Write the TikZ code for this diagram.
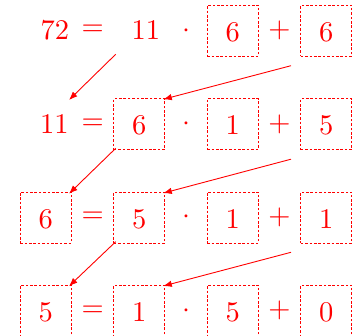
\documentclass[tikz,border=0pt]{standalone}
\usepackage{graphicx}
\usetikzlibrary{calc,arrows.meta}
\newcommand{\bignum}[1]{\scalebox{2.85}{$#1$}}
\begin{document}
\begin{tikzpicture}[x=1pt,y=-1pt,
  every node/.style={text=red,inner sep=0pt},
  boxnum/.style={draw=red,line width=0.9pt,dash pattern=on 2.6pt off 1.8pt,minimum size=51pt,text height=21.4pt,text depth=0pt},
  plainnum/.style={},
  conn/.style={draw=red,line width=0.9pt,-{Latex[length=8.5pt,width=6.5pt]}}]
\useasboundingbox (0,0) rectangle (360,336);
% row 1
\node[plainnum] (r1c1) at (55,30.7) {\bignum{72}};
\node (r1c2) at (92.8,30.7) {\bignum{=}};
\node[plainnum] (r1c3) at (146,30.7) {\bignum{11}};
\node (r1c4) at (186,30.7) {\bignum{\cdot}};
\node[boxnum] (r1c5) at (232.8,30.7) {\bignum{6}};
\node (r1c6) at (279.5,30.7) {\bignum{+}};
\node[boxnum] (r1c7) at (326.3,30.7) {\bignum{6}};
% row 2
\node[plainnum] (r2c1) at (54.5,124.2) {\bignum{11}};
\node (r2c2) at (92.8,124.2) {\bignum{=}};
\node[boxnum] (r2c3) at (139.3,124.2) {\bignum{6}};
\node (r2c4) at (186,124.2) {\bignum{\cdot}};
\node[boxnum] (r2c5) at (232.8,124.2) {\bignum{1}};
\node (r2c6) at (279.5,124.2) {\bignum{+}};
\node[boxnum] (r2c7) at (326.3,124.2) {\bignum{5}};
% row 3
\node[boxnum] (r3c1) at (45.8,217.5) {\bignum{6}};
\node (r3c2) at (92.8,217.5) {\bignum{=}};
\node[boxnum] (r3c3) at (139.3,217.5) {\bignum{5}};
\node (r3c4) at (186,217.5) {\bignum{\cdot}};
\node[boxnum] (r3c5) at (232.8,217.5) {\bignum{1}};
\node (r3c6) at (279.5,217.5) {\bignum{+}};
\node[boxnum] (r3c7) at (326.3,217.5) {\bignum{1}};
% row 4
\node[boxnum] (r4c1) at (45.8,310.8) {\bignum{5}};
\node (r4c2) at (92.8,310.8) {\bignum{=}};
\node[boxnum] (r4c3) at (139.3,310.8) {\bignum{1}};
\node (r4c4) at (186,310.8) {\bignum{\cdot}};
\node[boxnum] (r4c5) at (232.8,310.8) {\bignum{5}};
\node (r4c6) at (279.5,310.8) {\bignum{+}};
\node[boxnum] (r4c7) at (326.3,310.8) {\bignum{0}};
% arrow end points
\coordinate (a1s) at ($(r1c3.center)+(-30.3,23.6)$);
\coordinate (a1e) at ($(r2c1.center)+(14.5,-24.2)$);
\coordinate (b1s) at ($(r1c7.center)+(-35.3,35)$);
\coordinate (b1e) at ($(r2c3.center)+(24,-24.9)$);
\coordinate (a2s) at ($(r2c3.center)+(-23.6,24.1)$);
\coordinate (a2e) at ($(r3c1.center)+(23.2,-23.8)$);
\coordinate (b2s) at ($(r2c7.center)+(-35.3,35)$);
\coordinate (b2e) at ($(r3c3.center)+(24,-24.4)$);
\coordinate (a3s) at ($(r3c3.center)+(-23.6,24.2)$);
\coordinate (a3e) at ($(r4c1.center)+(23.2,-24.6)$);
\coordinate (b3s) at ($(r3c7.center)+(-35.3,34.8)$);
\coordinate (b3e) at ($(r4c3.center)+(24,-24.8)$);
\draw[conn] (a1s) -- (a1e);
\draw[conn] (b1s) -- (b1e);
\draw[conn] (a2s) -- (a2e);
\draw[conn] (b2s) -- (b2e);
\draw[conn] (a3s) -- (a3e);
\draw[conn] (b3s) -- (b3e);
\end{tikzpicture}
\end{document}
